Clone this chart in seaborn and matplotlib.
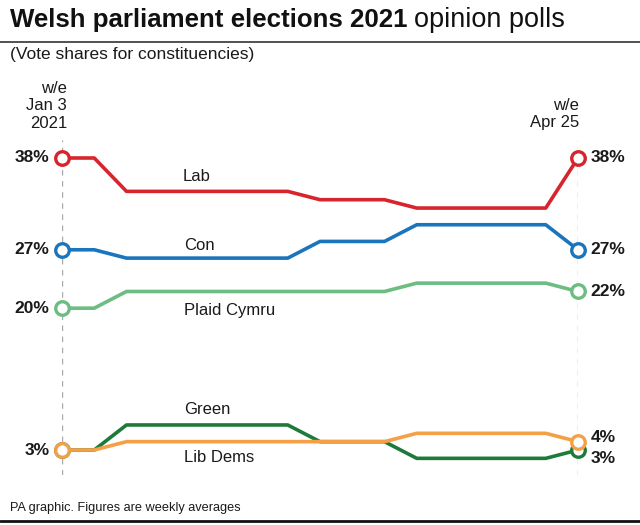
import matplotlib
matplotlib.use("Agg")
import matplotlib.pyplot as plt
import seaborn as sns
import pandas as pd

sns.set_theme(style="white")
plt.rcParams['font.family'] = ['Liberation Sans', 'DejaVu Sans']

weeks = list(range(17))
lab = [38, 38, 34, 34, 34, 34, 34, 34, 33, 33, 33, 32, 32, 32, 32, 32, 38]
con = [27, 27, 26, 26, 26, 26, 26, 26, 28, 28, 28, 30, 30, 30, 30, 30, 27]
plaid = [20, 20, 22, 22, 22, 22, 22, 22, 22, 22, 22, 23, 23, 23, 23, 23, 22]
green = [3, 3, 6, 6, 6, 6, 6, 6, 4, 4, 4, 2, 2, 2, 2, 2, 3]
libdem = [3, 3, 4, 4, 4, 4, 4, 4, 4, 4, 4, 5, 5, 5, 5, 5, 4]
parties = ["Lab", "Con", "Plaid Cymru", "Green", "Lib Dems"]
colors = {"Lab": "#d7252d", "Con": "#1b75bc", "Plaid Cymru": "#6cbd82",
          "Green": "#1d7a3a", "Lib Dems": "#f4a047"}

series = {"Lab": lab, "Con": con, "Plaid Cymru": plaid, "Green": green, "Lib Dems": libdem}
df = pd.concat([pd.DataFrame({"week": weeks, "share": v, "party": k}) for k, v in series.items()],
               ignore_index=True)

W, H = 640, 525
fig = plt.figure(figsize=(W / 100, H / 100), dpi=100)

def px(x, y):
    return x / W, 1 - y / H

# axes: x 62..578, y 140..475
ax = fig.add_axes([62 / W, 1 - 475 / H, (578 - 62) / W, (475 - 140) / H])
ax.set_xlim(0, 16)
ax.set_ylim(0.0035, 40.157)
ax.axis("off")

for xv in (0, 16):
    ax.axvline(xv, color="#aaaaaa", lw=1, ls=(0, (4, 4)), zorder=0)

order = ["Lab", "Con", "Plaid Cymru", "Green", "Lib Dems"]
for i, p in enumerate(order):
    sub = df[df.party == p]
    sns.lineplot(data=sub, x="week", y="share", color=colors[p], lw=2.6, ax=ax,
                 legend=False, zorder=3 + i, solid_joinstyle="round", solid_capstyle="round")
    ends = sub[sub.week.isin([0, 16])]
    sns.scatterplot(data=ends, x="week", y="share", ax=ax, s=95, marker="o",
                    facecolor="white", edgecolor=colors[p], linewidth=2.4,
                    zorder=4 + i, clip_on=False, legend=False)

# series labels
label_pos = {"Lab": (3.75, 35.84), "Con": (3.78, 27.57), "Plaid Cymru": (3.78, 19.78),
             "Green": (3.78, 7.8), "Lib Dems": (3.78, 2.16)}
for p, (x, y) in label_pos.items():
    ax.text(x, y, p, fontsize=12, ha="left", va="center", color="#1a1a1a")

# left value labels
for p in ["Lab", "Con", "Plaid Cymru", "Green"]:
    v = series[p][0]
    ax.annotate(f"{v}%", (0, v), xytext=(-9, 0), textcoords="offset points",
                ha="right", va="center", fontsize=12.5, fontweight="bold", color="#1a1a1a",
                annotation_clip=False)
# right value labels
right_off = {"Lab": 0, "Con": 0, "Plaid Cymru": 0, "Green": -6, "Lib Dems": 3}
for p in order:
    v = series[p][-1]
    ax.annotate(f"{v}%", (16, v), xytext=(9, right_off[p]), textcoords="offset points",
                ha="left", va="center", fontsize=12.5, fontweight="bold", color="#1a1a1a",
                annotation_clip=False)

# header
t1 = fig.text(*px(10, 20), "Welsh parliament elections 2021", fontsize=18.6, fontweight="bold",
              ha="left", va="center", color="#111111")
fig.canvas.draw()
bb = t1.get_window_extent()
fig.text((bb.x1 + 6) / W, 1 - 20 / H, "opinion polls", fontsize=19.5, ha="left", va="center",
         color="#111111")
fig.add_artist(plt.Line2D([0, 1], [1 - 42 / H] * 2, color="#333333", lw=1.2))
fig.text(*px(10, 55), "(Vote shares for constituencies)", fontsize=12.5, ha="left", va="center",
         color="#1a1a1a")

fig.text(*px(67, 106), "w/e\nJan 3\n2021", fontsize=12, ha="right", va="center",
         linespacing=1.2, color="#1a1a1a")
fig.text(*px(579, 114), "w/e\nApr 25", fontsize=12, ha="right", va="center",
         linespacing=1.2, color="#1a1a1a")

fig.text(*px(10, 508), "PA graphic. Figures are weekly averages", fontsize=9.2, ha="left",
         va="center", color="#1a1a1a")
fig.add_artist(plt.Line2D([0, 1], [1 - 521 / H] * 2, color="#111111", lw=2))

fig.savefig("out.png", dpi=100, facecolor="white")
